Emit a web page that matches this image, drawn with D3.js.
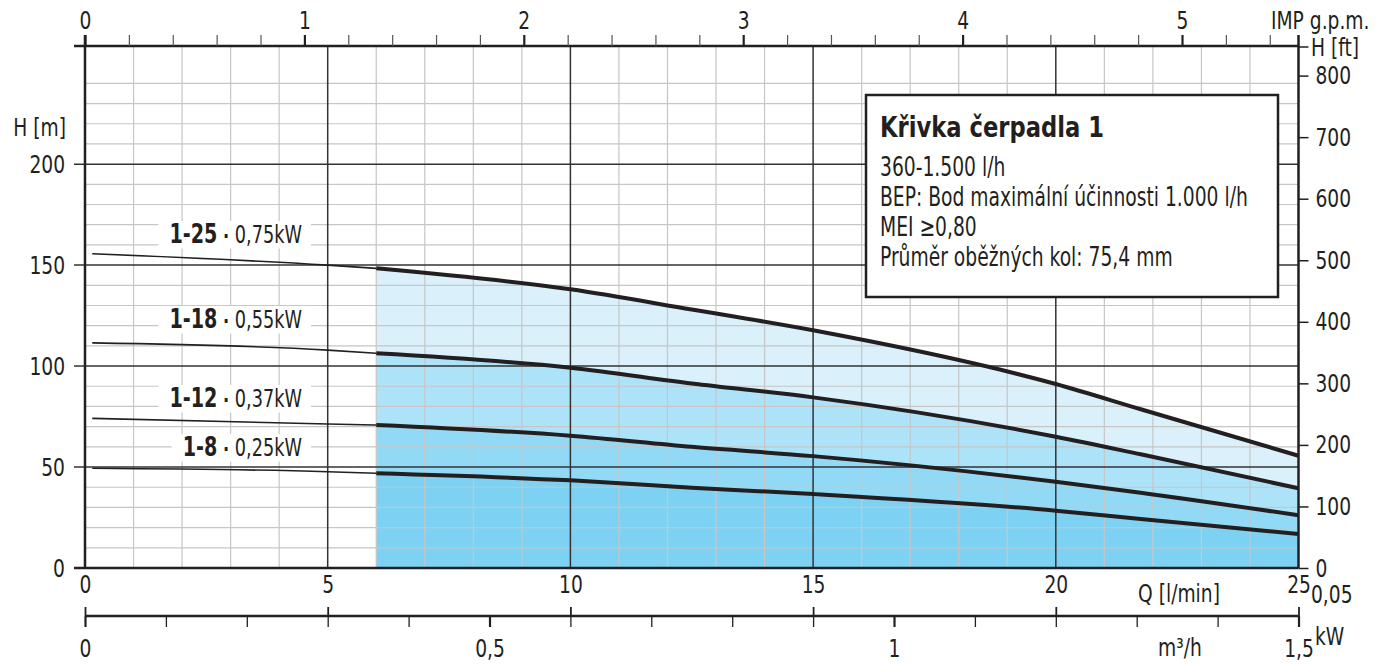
<!DOCTYPE html>
<html>
<head>
<meta charset="utf-8">
<script src="https://cdn.jsdelivr.net/npm/d3@7"></script>
<style>
  body { margin: 0; background: #fff; }
  svg text { font-family: "Liberation Sans Narrow", "DejaVu Sans Condensed", sans-serif; fill: #231f20; }
</style>
</head>
<body>
<div id="chart"></div>
<script>
// Data
const flowLmin = [0.15, 5, 6, 10, 12.5, 15, 20, 21.75, 25];
const head_1_25 = [155.6, 150, 148.4, 138.0, 128.0, 117.7, 91.1, 78.6, 55.6];
const head_1_18 = [111.5, 107.9, 106.3, 99.2, 91.4, 84.5, 65.0, 56.3, 39.5];
const head_1_12 = [74.1, 71.3, 70.8, 65.5, 60.0, 55.4, 42.7, 37.3, 26.1];
const head_1_8 = [49.4, 47.7, 46.9, 43.4, 39.8, 36.6, 28.4, 24.3, 16.8];
const models = ["1-25", "1-18", "1-12", "1-8"];
const powers = ["0,75kW", "0,55kW", "0,37kW", "0,25kW"];
const bandColors = ["#daf0fb", "#ade3f8", "#92d9f5", "#7dd2f3"];

const qTicks = [0, 5, 10, 15, 20, 25];
const hTicks = [0, 50, 100, 150, 200];
const ftTicks = [0, 100, 200, 300, 400, 500, 600, 700, 800];
const gpmLabels = [0, 1, 2, 3, 4, 5];
const m3hLabels = [0, 0.5, 1, 1.5];

const legendTitle = "Křivka čerpadla 1";
const legendLines = [
  "360-1.500 l/h",
  "BEP: Bod maximální účinnosti 1.000 l/h",
  "MEI ≥0,80",
  "Průměr oběžných kol: 75,4 mm",
];

const LMIN_PER_GPM = 4.52;
const M_PER_FT = 0.3048;
const FLOW_START = 6; // 360 l/h
const NARROW = 0.83; // condensed look of the original font
const FS = 25;

//Dimensions
const dimensions = { width: 1389, height: 664, left: 85, right: 1298.5, top: 46, bottom: 568 };

const svg = d3.select("#chart").append("svg")
  .attr("width", dimensions.width)
  .attr("height", dimensions.height);

const xScale = d3.scaleLinear().domain([0, 25]).range([dimensions.left, dimensions.right]);
const yScale = d3.scaleLinear().domain([0, 258.5]).range([dimensions.bottom, dimensions.top]);
const gpmScale = d3.scaleLinear().domain([0, 25 / LMIN_PER_GPM]).range([dimensions.left, dimensions.right]);
const m3hScale = d3.scaleLinear().domain([0, 1.5]).range([dimensions.left, dimensions.right]);
const ftScale = d3.scaleLinear().domain([0, 258.5 / M_PER_FT]).range([dimensions.bottom, dimensions.top]);

const locale = d3.formatLocale({ decimal: ",", thousands: ".", grouping: [3], currency: ["", ""] });
const fmt = locale.format("~g");

// squeeze text horizontally around its own x
function narrow(sel, s = NARROW) {
  sel.each(function () {
    const x = +(this.getAttribute("x") || 0);
    this.setAttribute("transform", `translate(${x},0) scale(${s},1) translate(${-x},0)`);
  });
}

const series = [head_1_25, head_1_18, head_1_12, head_1_8].map((heads, i) => ({
  model: models[i],
  power: powers[i],
  points: flowLmin.map((q, j) => ({ q, h: heads[j] })),
}));

// Fill bands between curves
const pumpRange = (pts) => pts.filter((d) => d.q >= FLOW_START);
series.forEach((s, i) => {
  const upper = pumpRange(s.points);
  const lower = i < series.length - 1 ? pumpRange(series[i + 1].points) : upper.map((d) => ({ q: d.q, h: 0 }));
  const area = d3.area()
    .curve(d3.curveMonotoneX)
    .x((d) => xScale(d.q))
    .y1((d) => yScale(d.h))
    .y0((d, k) => yScale(lower[k].h));
  svg.append("path").datum(upper).attr("d", area).attr("fill", bandColors[i]);
});

// Grid
const grid = svg.append("g");
d3.range(1, 25).filter((q) => q % 5 !== 0).forEach((q) => {
  grid.append("line")
    .attr("x1", xScale(q)).attr("x2", xScale(q))
    .attr("y1", dimensions.top).attr("y2", dimensions.bottom)
    .attr("stroke", "#c6c6c6").attr("stroke-width", 1.2);
});
d3.range(10, 250, 10).filter((h) => h % 50 !== 0).forEach((h) => {
  grid.append("line")
    .attr("x1", dimensions.left).attr("x2", dimensions.right)
    .attr("y1", yScale(h)).attr("y2", yScale(h))
    .attr("stroke", "#c6c6c6").attr("stroke-width", 1.2);
});
qTicks.filter((q) => q > 0 && q < 25).forEach((q) => {
  grid.append("line")
    .attr("x1", xScale(q)).attr("x2", xScale(q))
    .attr("y1", dimensions.top).attr("y2", dimensions.bottom)
    .attr("stroke", "#333").attr("stroke-width", 1.5);
});
hTicks.filter((h) => h > 0).forEach((h) => {
  grid.append("line")
    .attr("x1", dimensions.left - 11).attr("x2", dimensions.right)
    .attr("y1", yScale(h)).attr("y2", yScale(h))
    .attr("stroke", "#333").attr("stroke-width", 1.5);
});

// Curve labels with white background
const labelLayout = { x: 302, y: [243, 328, 407, 456], squeeze: 0.82 };
series.forEach((s, i) => {
  const g = svg.append("g");
  const bg = g.append("rect").attr("fill", "#fff");
  const t = g.append("text")
    .attr("x", labelLayout.x)
    .attr("y", labelLayout.y[i])
    .attr("text-anchor", "end");
  t.append("tspan").attr("font-weight", "bold").attr("font-size", 26).text(s.model);
  t.append("tspan").attr("font-weight", "bold").attr("font-size", 22).text(" · ");
  t.append("tspan").attr("font-size", 24).text(s.power);
  narrow(t, labelLayout.squeeze);
  const bb = t.node().getBBox();
  const w = bb.width * labelLayout.squeeze;
  bg.attr("x", labelLayout.x - w - 11).attr("y", bb.y + 2).attr("width", w + 20).attr("height", bb.height - 3);
});

// Curves
const lineGenerator = d3.line()
  .curve(d3.curveMonotoneX)
  .x((d) => xScale(d.q))
  .y((d) => yScale(d.h));
series.forEach((s) => {
  svg.append("path")
    .datum(s.points.filter((d) => d.q <= FLOW_START))
    .attr("d", lineGenerator)
    .attr("fill", "none").attr("stroke", "#231f20").attr("stroke-width", 1.6);
  svg.append("path")
    .datum(pumpRange(s.points))
    .attr("d", lineGenerator)
    .attr("fill", "none").attr("stroke", "#231f20").attr("stroke-width", 4);
});

// Frame lines
const ink = "#231f20";
svg.append("line").attr("x1", dimensions.left - 11).attr("x2", dimensions.right)
  .attr("y1", dimensions.top).attr("y2", dimensions.top).attr("stroke", ink).attr("stroke-width", 2.5);
svg.append("line").attr("x1", dimensions.left - 11).attr("x2", dimensions.right)
  .attr("y1", dimensions.bottom).attr("y2", dimensions.bottom).attr("stroke", ink).attr("stroke-width", 2.5);
svg.append("line").attr("x1", dimensions.left).attr("x2", dimensions.left)
  .attr("y1", dimensions.top - 11).attr("y2", dimensions.bottom).attr("stroke", ink).attr("stroke-width", 2.5);
svg.append("line").attr("x1", dimensions.right).attr("x2", dimensions.right)
  .attr("y1", dimensions.top - 11).attr("y2", dimensions.bottom).attr("stroke", ink).attr("stroke-width", 2.5);

const styleAxis = (g) => {
  g.select(".domain").remove();
  g.selectAll(".tick line").attr("stroke", ink);
  g.selectAll(".tick text").attr("font-size", FS).attr("fill", ink)
    .attr("font-family", '"Liberation Sans Narrow", "DejaVu Sans Condensed", sans-serif')
    .call(narrow);
};
const label = (x, y, txt, anchor = "start") =>
  svg.append("text").attr("x", x).attr("y", y).attr("text-anchor", anchor)
    .attr("font-size", FS).text(txt).call(narrow);

// Top axis: IMP g.p.m.
const gpmTicks = d3.range(0, 28).map((i) => i / 5);
const isWhole = (d) => Number.isInteger(Math.round(d * 100) / 100);
svg.append("g")
  .attr("transform", `translate(0, ${dimensions.top})`)
  .call(d3.axisTop(gpmScale).tickValues(gpmTicks).tickSize(11).tickPadding(6)
    .tickFormat((d) => (isWhole(d) ? fmt(Math.round(d)) : "")))
  .call(styleAxis)
  .call((g) => g.selectAll(".tick line")
    .attr("stroke-width", (d) => (isWhole(d) ? 2.2 : 1.2))
    .attr("stroke", (d) => (isWhole(d) ? ink : "#555")));
label(1271, 29, "IMP g.p.m.");

// Left axis: H [m]
svg.append("g")
  .attr("transform", `translate(${dimensions.left - 11}, 0)`)
  .call(d3.axisLeft(yScale).tickValues(hTicks).tickSize(0).tickPadding(9))
  .call(styleAxis);
label(66, 136, "H [m]", "end");

// Right axis: H [ft]
svg.append("g")
  .attr("transform", `translate(${dimensions.right}, 0)`)
  .call(d3.axisRight(ftScale).tickValues(ftTicks).tickSize(10).tickPadding(7))
  .call(styleAxis)
  .call((g) => g.selectAll(".tick line").attr("stroke-width", 1.5));
svg.append("line").attr("x1", dimensions.right).attr("x2", dimensions.right + 10)
  .attr("y1", dimensions.top + 1).attr("y2", dimensions.top + 1).attr("stroke", ink).attr("stroke-width", 1.5);
label(1311, dimensions.top + 10, "H [ft]");

// Bottom: Q [l/min] labels and m3/h axis
const m3hY = 616;
svg.append("g")
  .attr("transform", `translate(0, ${m3hY})`)
  .call(d3.axisTop(xScale).tickValues(qTicks).tickSize(9).tickPadding(14).tickFormat(fmt))
  .call(styleAxis)
  .call((g) => g.selectAll(".tick line").attr("stroke-width", 1.8));
svg.append("line").attr("x1", dimensions.left).attr("x2", dimensions.right)
  .attr("y1", m3hY).attr("y2", m3hY).attr("stroke", ink).attr("stroke-width", 2.5);
const m3hTicks = d3.range(0, 16).map((i) => i / 10);
svg.append("g")
  .attr("transform", `translate(0, ${m3hY})`)
  .call(d3.axisBottom(m3hScale).tickValues(m3hTicks).tickSize(11).tickPadding(12)
    .tickFormat((d) => (m3hLabels.includes(Math.round(d * 10) / 10) ? fmt(Math.round(d * 10) / 10) : "")))
  .call(styleAxis)
  .call((g) => g.selectAll(".tick line")
    .attr("stroke-width", (d) => (m3hLabels.includes(Math.round(d * 10) / 10) ? 2.2 : 1.3)));
label(1179, 602, "Q [l/min]", "middle");
label(1180, 656, "m³/h", "middle");
label(1311, 603, "0,05");
label(1315, 645, "kW");

// Legend box
const box = { x: 866, y: 95, w: 412, h: 202, textX: 880, titleY: 137, lineY0: 176, lineStep: 30 };
svg.append("rect")
  .attr("x", box.x).attr("y", box.y).attr("width", box.w).attr("height", box.h)
  .attr("fill", "#fff").attr("stroke", ink).attr("stroke-width", 2.5);
const title = svg.append("text").attr("font-size", 28).attr("font-weight", "bold").text(legendTitle);
const titleScale = 224 / title.node().getComputedTextLength();
title.attr("transform", `translate(${box.textX}, ${box.titleY}) scale(${titleScale}, 1)`);
const bodyTexts = legendLines.map((l) => svg.append("text").attr("font-size", 27).text(l));
const bodyScale = 368 / bodyTexts[1].node().getComputedTextLength();
bodyTexts.forEach((t, i) => {
  t.attr("transform", `translate(${box.textX}, ${box.lineY0 + i * box.lineStep}) scale(${bodyScale}, 1)`);
});
</script>
</body>
</html>
